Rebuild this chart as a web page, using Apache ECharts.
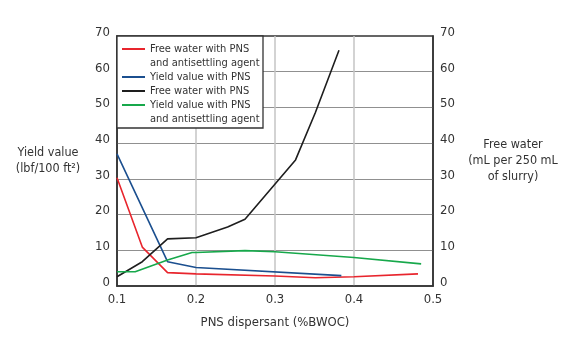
<!DOCTYPE html>
<html>
<head>
<meta charset="utf-8">
<script src="https://cdn.jsdelivr.net/npm/echarts@6/dist/echarts.min.js"></script>
<style>
  html, body { margin: 0; padding: 0; background: #fff; }
  #chart { width: 567px; height: 339px; }
</style>
</head>
<body>
<div id="chart"></div>
<script>
// PNS dispersant dosage (%BWOC) vs. yield value and free water
const FONT = "'Liberation Sans Narrow', 'DejaVu Sans Condensed', sans-serif";
const TEXT = '#333333';

const xTicks = [0.1, 0.2, 0.3, 0.4, 0.5];
const yTicks = [0, 10, 20, 30, 40, 50, 60, 70];

// [dispersant, value] pairs for each curve
const freeWaterAntisettling = [
  [0.1, 30.3], [0.132, 10.9], [0.164, 3.75], [0.2, 3.4], [0.3, 2.8],
  [0.351, 2.3], [0.4, 2.6], [0.481, 3.4]
];
const yieldPNS = [
  [0.1, 37.0], [0.164, 6.8], [0.2, 5.2], [0.384, 2.9]
];
const freeWaterPNS = [
  [0.1, 2.6], [0.132, 6.8], [0.164, 13.2], [0.2, 13.5], [0.24, 16.5],
  [0.262, 18.7], [0.326, 35.3], [0.351, 48.5], [0.381, 66.0]
];
const yieldAntisettling = [
  [0.1, 4.0], [0.123, 4.0], [0.164, 7.3], [0.195, 9.4], [0.2, 9.4],
  [0.262, 9.9], [0.3, 9.6], [0.4, 8.0], [0.485, 6.2]
];

const seriesNames = [
  'Free water with PNS and antisettling agent',
  'Yield value with PNS',
  'Free water with PNS',
  'Yield value with PNS and antisettling agent'
];
const legendLabels = [
  'Free water with PNS\nand antisettling agent',
  'Yield value with PNS',
  'Free water with PNS',
  'Yield value with PNS\nand antisettling agent'
];
const seriesColors = ['#e8252d', '#1b4f8f', '#1e1e1e', '#17a84b'];
const seriesData = [freeWaterAntisettling, yieldPNS, freeWaterPNS, yieldAntisettling];
const seriesAxis = [1, 0, 1, 0];

// Legend swatches: a 2px stroke inside a 23x16 box, at the top for two-line
// labels (so it sits beside the first line) and centred for one-line labels.
const ICON_TOP = 'path://M0,0 L23,0 L23,2 L0,2 Z M0,15.99 L0.01,16 L0,16 Z';
const ICON_MID = 'path://M0,0 L0.01,0 L0,0.01 Z M0,7 L23,7 L23,9 L0,9 Z M0,15.99 L0.01,16 L0,16 Z';
const legendTops = [42, 69, 83, 98];

const chart = echarts.init(document.getElementById('chart'), null, { renderer: 'canvas' });

function yAxisCfg(pos, name, gap, pad) {
  return {
    type: 'value', position: pos, min: 0, max: 70, interval: 10,
    name: name, nameLocation: 'middle', nameRotate: 0, nameGap: gap,
    nameTextStyle: { fontFamily: FONT, fontSize: 12.5, color: TEXT, align: 'center', lineHeight: 16,
                     padding: pad, backgroundColor: 'rgba(255,255,255,0)' },
    axisLine: { show: true, lineStyle: { color: '#333', width: 1.5 } },
    axisTick: { show: false },
    axisLabel: { fontFamily: FONT, fontSize: 13, color: TEXT, margin: 7,
                 verticalAlign: 'bottom', lineHeight: 7 },
    splitLine: pos === 'left'
      ? { show: true, showMinLine: false, showMaxLine: false, lineStyle: { color: '#909090', width: 1 } }
      : { show: false }
  };
}

chart.setOption({
  animation: false,
  backgroundColor: '#fff',
  grid: { left: 117, right: 134, top: 36, bottom: 53, show: true,
          borderColor: '#333', borderWidth: 1.6, backgroundColor: 'transparent', containLabel: false },
  xAxis: {
    type: 'value', min: xTicks[0], max: xTicks[xTicks.length - 1], interval: 0.1,
    name: 'PNS dispersant (%BWOC)', nameLocation: 'middle', nameGap: 30,
    nameTextStyle: { fontFamily: FONT, fontSize: 13, color: TEXT },
    axisLine: { show: true, onZero: false, lineStyle: { color: '#333', width: 1.6 } },
    axisTick: { show: false },
    axisLabel: { fontFamily: FONT, fontSize: 13, color: TEXT, margin: 7,
                 formatter: v => v.toFixed(1) },
    splitLine: { show: true, showMinLine: false, showMaxLine: false, lineStyle: { color: '#c4c4c4', width: 1.5 } }
  },
  yAxis: [
    yAxisCfg('left', 'Yield value\n(lbf/100 ft²)', 69, [0, 0, 7, 0]),
    yAxisCfg('right', 'Free water\n(mL per 250 mL\nof slurry)', 80, [0, 0, 0, 0])
  ],
  legend: seriesNames.map((n, i) => ({
    data: [n], left: 122, top: legendTops[i], padding: 0, z: 10,
    orient: 'vertical', itemWidth: 23, itemHeight: 16, selectedMode: false,
    icon: legendLabels[i].includes('\n') ? ICON_TOP : ICON_MID,
    formatter: () => legendLabels[i],
    textStyle: { fontFamily: FONT, fontSize: 11, color: TEXT, lineHeight: 14 }
  })),
  graphic: [{
    type: 'rect', z: 5,
    shape: { x: 117, y: 36, width: 146, height: 92 },
    style: { fill: '#fff', stroke: '#333', lineWidth: 1.3 }
  }],
  series: seriesNames.map((n, i) => ({
    name: n, type: 'line', yAxisIndex: seriesAxis[i], data: seriesData[i],
    showSymbol: false, symbol: 'none', z: 3,
    lineStyle: { color: seriesColors[i], width: 1.6 },
    itemStyle: { color: seriesColors[i] }
  }))
});
</script>
</body>
</html>
